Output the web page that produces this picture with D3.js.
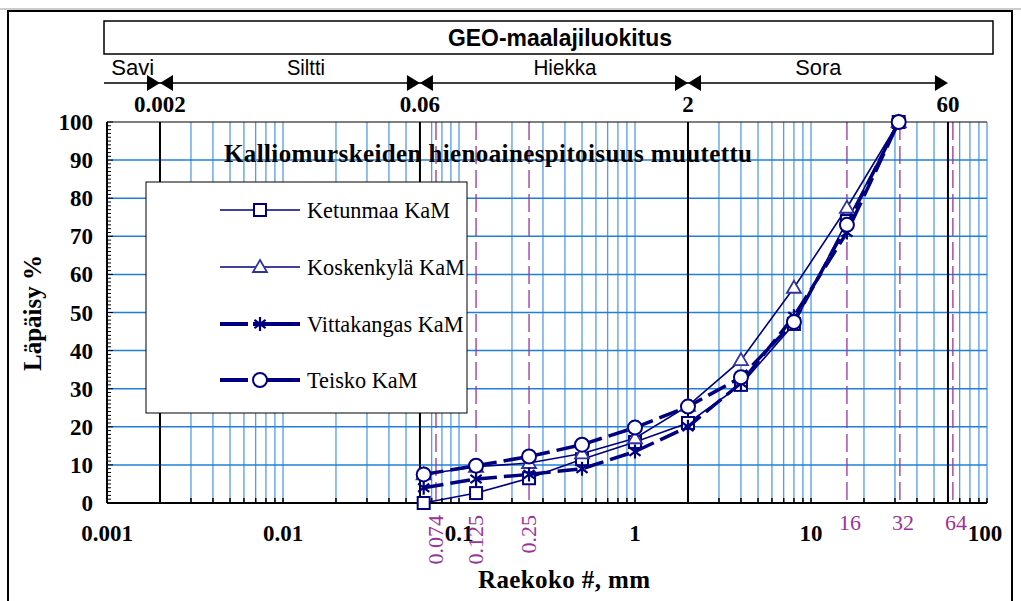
<!DOCTYPE html>
<html>
<meta charset="utf-8">
<script src="https://d3js.org/d3.v7.min.js"></script>
<body>
<style>
    body, html { margin: 0; padding: 0; background: #fff; overflow: hidden; }
</style>
<svg id="chart"></svg>
<script>
    // sieve sizes (mm) and passing percentages
    var sizes = [0.063, 0.125, 0.25, 0.5, 1, 2, 4, 8, 16, 31.5];
    var ketunmaa = [0, 2.6, 6.5, 11.5, 16, 21, 31, 47, 74, 100];
    var koskenkyla = [7.5, 9.5, 10.5, 13, 17, 25.5, 37.5, 56.5, 77.5, 100];
    var vittakangas = [4, 6.3, 7.5, 9, 13.5, 20, 31.5, 49, 71, 100];
    var teisko = [7.5, 9.8, 12.2, 15.3, 19.8, 25.3, 33, 47.5, 73, 100];

    var seriesNames = ["Ketunmaa KaM", "Koskenkylä KaM", "Vittakangas KaM", "Teisko KaM"];

    // soil classification (GEO)
    var classNames = ["Savi", "Siltti", "Hiekka", "Sora"];
    var classCenters = [0.0014, 0.0135, 0.4, 11];
    var bounds = [0.002, 0.06, 2, 60];
    var boundLabels = ["0.002", "0.06", "2", "60"];

    // purple reference sieves
    var refSieves = [0.074, 0.125, 0.25, 16, 32, 64];
    var refLabels = ["0.074", "0.125", "0.25", "16", "32", "64"];

    var xTicks = [0.001, 0.01, 0.1, 1, 10, 100];
    var xTickLabels = ["0.001", "0.01", "0.1", "1", "10", "100"];
    var yTicks = [0, 10, 20, 30, 40, 50, 60, 70, 80, 90, 100];

    var width = 1021, height = 601;
    var serif = "'Liberation Serif','Times New Roman',serif";
    var sans = "'Liberation Sans',Arial,sans-serif";
    var navy = "#00007f";
    var blue = "#1f80da";
    var purple = "#993399";

    var svg = d3.select("#chart").attr("width", width).attr("height", height);

    var x = d3.scaleLog().domain([0.001, 100]).range([107, 987]);
    var y = d3.scaleLinear().domain([0, 100]).range([503, 122]);

    // outer frame
    svg.append("line").attr("x1", 0).attr("x2", width).attr("y1", 9).attr("y2", 9)
        .attr("stroke", "#999").attr("stroke-width", 1);
    svg.append("rect").attr("x", 8).attr("y", 11).attr("width", 1004).attr("height", 620)
        .attr("fill", "none").attr("stroke", "#000").attr("stroke-width", 2);

    // header box
    svg.append("rect").attr("x", 104).attr("y", 21).attr("width", 889).attr("height", 33)
        .attr("fill", "#fff").attr("stroke", "#000").attr("stroke-width", 1.5);
    svg.append("text").attr("x", 560).attr("y", 46).attr("text-anchor", "middle")
        .attr("textLength", 224).attr("lengthAdjust", "spacingAndGlyphs")
        .style("font", "bold 23px " + sans).text("GEO-maalajiluokitus");

    // class arrows
    var arrowY = 83;
    svg.append("line").attr("x1", 104).attr("x2", x(60) - 4).attr("y1", arrowY).attr("y2", arrowY)
        .attr("stroke", "#000").attr("stroke-width", 1.5);
    bounds.forEach(function (b, i) {
        var bx = x(b);
        svg.append("path").attr("d", "M" + (bx - 13) + "," + (arrowY - 8) + "L" + bx + "," + arrowY + "L" + (bx - 13) + "," + (arrowY + 8) + "Z")
            .attr("fill", "#000");
        if (i < bounds.length - 1) {
            svg.append("path").attr("d", "M" + (bx + 13) + "," + (arrowY - 8) + "L" + bx + "," + arrowY + "L" + (bx + 13) + "," + (arrowY + 8) + "Z")
                .attr("fill", "#000");
        }
        svg.append("text").attr("x", bx).attr("y", 112).attr("text-anchor", "middle")
            .style("font", "bold 23px " + serif).text(boundLabels[i]);
    });
    classNames.forEach(function (c, i) {
        svg.append("text").attr("x", x(classCenters[i])).attr("y", 75).attr("text-anchor", "middle")
            .attr("textLength", [43, 38, 63, 46][i]).attr("lengthAdjust", "spacingAndGlyphs")
            .style("font", "22px " + sans).text(c);
    });

    // vertical grid
    var minors = [];
    for (var n = -3; n <= 1; n++) {
        for (var k = 1; k <= 9; k++) minors.push(k * Math.pow(10, n));
    }
    minors.push(100);
    svg.append("g").selectAll("line").data(minors).enter().append("line")
        .attr("x1", function (d) { return x(d); }).attr("x2", function (d) { return x(d); })
        .attr("y1", y(100)).attr("y2", y(0))
        .attr("stroke", blue).attr("stroke-width", 1);
    // horizontal grid
    svg.append("g").selectAll("line").data(yTicks.slice(1, 10)).enter().append("line")
        .attr("x1", x(0.001)).attr("x2", x(100))
        .attr("y1", function (d) { return y(d); }).attr("y2", function (d) { return y(d); })
        .attr("stroke", blue).attr("stroke-width", 1.5);

    // purple dashed reference lines
    svg.append("g").selectAll("line").data(refSieves).enter().append("line")
        .attr("x1", function (d) { return x(d); }).attr("x2", function (d) { return x(d); })
        .attr("y1", y(100)).attr("y2", y(0))
        .attr("stroke", purple).attr("stroke-width", 1.3).attr("stroke-dasharray", "18,6");

    // classification boundaries
    svg.append("g").selectAll("line").data(bounds).enter().append("line")
        .attr("x1", function (d) { return x(d); }).attr("x2", function (d) { return x(d); })
        .attr("y1", y(100)).attr("y2", y(0))
        .attr("stroke", "#000").attr("stroke-width", 2);

    // frame of plot
    svg.append("line").attr("x1", x(0.001)).attr("x2", x(100)).attr("y1", y(100)).attr("y2", y(100))
        .attr("stroke", "#000").attr("stroke-width", 1.2);
    svg.append("line").attr("x1", x(0.001)).attr("x2", x(0.001)).attr("y1", y(100)).attr("y2", y(0))
        .attr("stroke", "#000").attr("stroke-width", 2);
    svg.append("line").attr("x1", x(0.001)).attr("x2", x(100)).attr("y1", y(0)).attr("y2", y(0))
        .attr("stroke", "#000").attr("stroke-width", 2);

    // y ticks (inward)
    var yMinor = d3.range(0, 101, 1);
    svg.append("g").selectAll("line").data(yMinor).enter().append("line")
        .attr("x1", x(0.001)).attr("x2", function (d) { return x(0.001) + (d % 10 === 0 ? 6 : 4); })
        .attr("y1", function (d) { return y(d); }).attr("y2", function (d) { return y(d); })
        .attr("stroke", "#000").attr("stroke-width", 1);
    svg.append("g").selectAll("text").data(yTicks).enter().append("text")
        .attr("x", 93).attr("y", function (d) { return y(d) + 8; }).attr("text-anchor", "end")
        .style("font", "bold 23px " + serif).text(function (d) { return d; });

    // x ticks (inward)
    svg.append("g").selectAll("line").data(minors).enter().append("line")
        .attr("x1", function (d) { return x(d); }).attr("x2", function (d) { return x(d); })
        .attr("y1", y(0)).attr("y2", y(0) - 5)
        .attr("stroke", "#000").attr("stroke-width", 1.5);
    svg.append("g").selectAll("text").data(xTicks).enter().append("text")
        .attr("x", function (d) { return x(d) + (d === 100 ? -2 : 0); }).attr("y", 541).attr("text-anchor", "middle")
        .style("font", "bold 23px " + serif).text(function (d, i) { return xTickLabels[i]; });

    // purple labels
    refSieves.forEach(function (s, i) {
        if (s < 1) {
            svg.append("text").attr("transform", "translate(" + (x(s) + 7) + ",515) rotate(-90)")
                .attr("text-anchor", "end").attr("fill", purple)
                .style("font", "22px " + serif).text(refLabels[i]);
        } else {
            svg.append("text").attr("x", x(s) + 3).attr("y", 530).attr("text-anchor", "middle")
                .attr("fill", purple).style("font", "22px " + serif).text(refLabels[i]);
        }
    });

    // axis titles
    svg.append("text").attr("transform", "translate(41,313) rotate(-90)").attr("text-anchor", "middle")
        .style("font", "bold 25px " + serif).text("Läpäisy %");
    svg.append("text").attr("x", 564).attr("y", 588).attr("text-anchor", "middle")
        .attr("textLength", 172).attr("lengthAdjust", "spacing")
        .style("font", "bold 25px " + serif).text("Raekoko #, mm");

    // chart title
    svg.append("text").attr("x", 488).attr("y", 162).attr("text-anchor", "middle")
        .attr("textLength", 528).attr("lengthAdjust", "spacing")
        .style("font", "bold 25px " + serif)
        .text("Kalliomurskeiden hienoainespitoisuus muutettu");

    // markers
    function drawMarker(g, type, cx, cy) {
        if (type === "square") {
            g.append("rect").attr("x", cx - 6).attr("y", cy - 6).attr("width", 12).attr("height", 12)
                .attr("fill", "#fff").attr("stroke", navy).attr("stroke-width", 2);
        } else if (type === "triangle") {
            g.append("path").attr("d", "M" + cx + "," + (cy - 7) + "L" + (cx + 7) + "," + (cy + 5) + "L" + (cx - 7) + "," + (cy + 5) + "Z")
                .attr("fill", "#fff").attr("stroke", "#3333a0").attr("stroke-width", 1.8);
        } else if (type === "star") {
            var r = 7;
            var p = "M" + cx + "," + (cy - r) + "L" + cx + "," + (cy + r) +
                "M" + (cx - r * 0.8) + "," + (cy - r * 0.6) + "L" + (cx + r * 0.8) + "," + (cy + r * 0.6) +
                "M" + (cx - r * 0.8) + "," + (cy + r * 0.6) + "L" + (cx + r * 0.8) + "," + (cy - r * 0.6);
            g.append("path").attr("d", p).attr("stroke", navy).attr("stroke-width", 2.2).attr("fill", "none");
        } else {
            g.append("circle").attr("cx", cx).attr("cy", cy).attr("r", 7)
                .attr("fill", "#fff").attr("stroke", navy).attr("stroke-width", 2);
        }
    }

    var series = [
        { name: seriesNames[0], values: ketunmaa, marker: "square", thick: false },
        { name: seriesNames[1], values: koskenkyla, marker: "triangle", thick: false },
        { name: seriesNames[2], values: vittakangas, marker: "star", thick: true },
        { name: seriesNames[3], values: teisko, marker: "circle", thick: true }
    ];

    var line = d3.line()
        .x(function (d) { return x(d[0]); })
        .y(function (d) { return y(d[1]); });

    series.forEach(function (s) {
        var pts = sizes.map(function (d, i) { return [d, s.values[i]]; });
        var g = svg.append("g");
        g.append("path").datum(pts).attr("d", line).attr("fill", "none")
            .attr("stroke", navy).attr("stroke-width", s.thick ? 3.5 : 1.6)
            .attr("stroke-dasharray", s.thick ? "20,7" : null);
        pts.forEach(function (p) { drawMarker(g, s.marker, x(p[0]), y(p[1])); });
    });

    // legend
    var lg = svg.append("g");
    lg.append("rect").attr("x", 146).attr("y", 182).attr("width", 321).attr("height", 231)
        .attr("fill", "#fff").attr("stroke", "#000").attr("stroke-width", 1);
    var rowY = [210, 267, 324, 380];
    series.forEach(function (s, i) {
        var yy = rowY[i];
        lg.append("line").attr("x1", 220).attr("x2", 300).attr("y1", yy).attr("y2", yy)
            .attr("stroke", navy).attr("stroke-width", s.thick ? 4 : 1.6);
        if (s.thick) {
            lg.append("line").attr("x1", 248).attr("x2", 253).attr("y1", yy).attr("y2", yy)
                .attr("stroke", "#fff").attr("stroke-width", 5);
        }
        drawMarker(lg, s.marker, 260, yy);
        lg.append("text").attr("x", 307).attr("y", yy + 8)
            .style("font", "22.3px " + serif).text(s.name);
    });
</script>
</body>
</html>
